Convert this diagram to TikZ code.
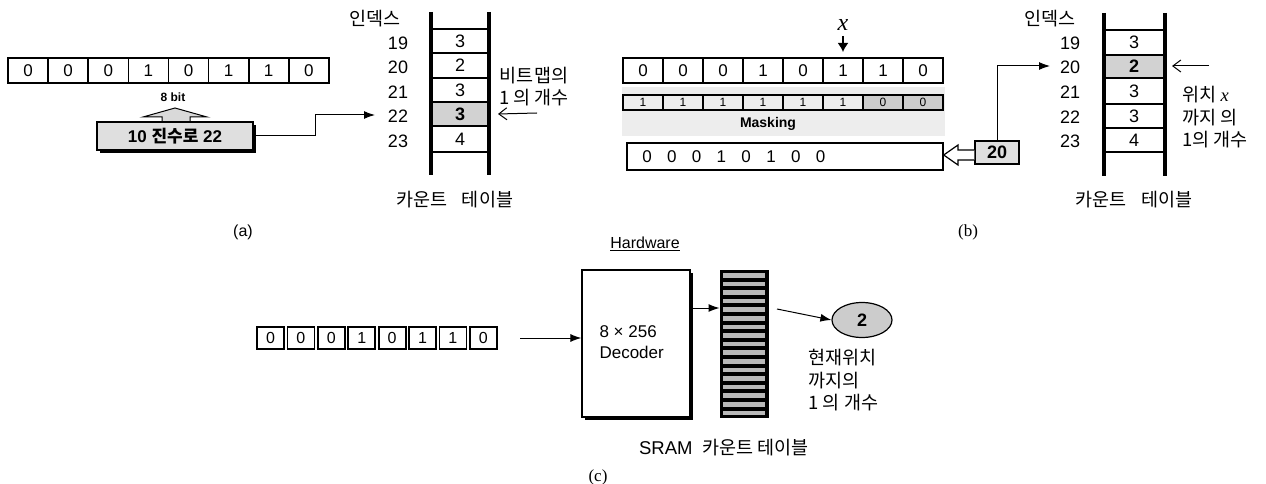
\documentclass[tikz,border=0pt]{standalone}
\usepackage{fontspec}
\setmainfont{Liberation Sans}
\newfontfamily\kr{Noto Sans CJK KR}
\newfontfamily\srf{Liberation Serif}
\usetikzlibrary{arrows.meta,shadows,shapes.geometric}
\begin{document}
\begin{tikzpicture}[x=1pt,y=-1pt,
  bitcell/.style={draw,line width=1.6pt,minimum width=40pt,minimum height=25pt,inner sep=0pt,font=\fontsize{17}{17}\selectfont},
  maskcell/.style={draw,line width=1.6pt,minimum width=40pt,minimum height=15pt,inner sep=0pt,font=\fontsize{12}{12}\selectfont},
  smallbit/.style={draw,line width=1.8pt,minimum width=27pt,minimum height=22pt,inner sep=0pt,font=\fontsize{16}{16}\selectfont},
  tval/.style={font=\fontsize{18}{18}\selectfont},
  tvalb/.style={font=\bfseries\fontsize{18}{18}\selectfont},
  tidx/.style={font=\fontsize{18}{18}\selectfont},
  krlab/.style={font=\kr\fontsize{18.5}{21}\selectfont},
  pole/.style={line width=3.5pt},
  rung/.style={line width=1.2pt},
  conn/.style={line width=1pt,-{Latex[length=11pt,width=8pt]}},
  thinarrow/.style={line width=1pt,-{Straight Barb[length=8pt,width=12pt]}},
  capt/.style={font=\fontsize{16}{16}\selectfont}]
\useasboundingbox (0,0) rectangle (1266,484);

%% ---------------- (a) ----------------
\foreach \b [count=\i from 0] in {0,0,0,1,0,1,1,0}
  \node[bitcell] (a\i) at ({28.1+40.1*\i},70.5) {\b};
\node[font=\bfseries\fontsize{12}{12}\selectfont] (abit) at (173,97) {8 bit};
\filldraw[fill=gray!30,line width=1pt] (162,122) -- (162,117) -- (143,117) -- (175,108) -- (207,117) -- (190,117) -- (190,122);
\node[draw,line width=1.2pt,fill=gray!25,minimum width=156pt,minimum height=28pt,
      drop shadow={shadow xshift=3pt,shadow yshift=-3pt,fill=black,opacity=1},
      font=\bfseries\fontsize{17}{17}\selectfont] (abox) at (175,136) {10 {\kr 진수로} 22};
% table a
\fill[gray!35] (431,102) rectangle (489,126);
\foreach \y in {29,53,78,102,126,152} \draw[rung] (431,\y) -- (489,\y);
\draw[pole] (431,12) -- (431,175);
\draw[pole] (489,12) -- (489,175);
\node[krlab] (aidx) at (375,19) {인덱스};
\foreach \n/\y in {19/41,20/65.5,21/90,22/114,23/139}
  \node[tidx] (ai\n) at (398,\y+2) {\n};
\node[tval] (av19) at (460,41) {3};
\node[tval] (av20) at (460,65.5) {2};
\node[tval] (av21) at (460,90) {3};
\node[tvalb] (av22) at (460,114) {3};
\node[tval] (av23) at (460,139) {4};
\coordinate (aend) at (375,115);
\draw[conn] (abox.east) -- (315,136) |- (aend);
\node[krlab] (acnt1) at (534,76) {비트맵의};
\node[krlab] (acnt2) at (534,98) {1 의 개수};
\coordinate (aarrs) at (537,113);
\draw[thinarrow] (aarrs) -- (av22.east -| 498,0);
\node[krlab] (atitle) at (455,200) {카운트\hspace{14pt}테이블};
\node[capt] (acap) at (243,232) {(a)};

%% ---------------- (b) ----------------
\fill[gray!14] (622,87) rectangle (945,136);
\foreach \b [count=\i from 0] in {0,0,0,1,0,1,1,0}
  \node[bitcell] (b\i) at ({643+40*\i},70.5) {\b};
\foreach \b [count=\i from 0] in {1,1,1,1,1,1}
  \node[maskcell] (m\i) at ({643+40*\i},102.5) {\b};
\node[maskcell,fill=gray!40] (m6) at (883,102.5) {0};
\node[maskcell,fill=gray!40] (m7) at (923,102.5) {0};
\node[font=\bfseries\fontsize{14}{14}\selectfont] (mask) at (768,124) {Masking};
\node[font=\srf\itshape\fontsize{24}{24}\selectfont] (bx) at (843,25) {x};
\draw[line width=1.5pt,-{Latex[length=9pt,width=11pt]}] (843,36) -- (843,52);
\node[draw,line width=1.4pt,minimum width=316pt,minimum height=27pt,inner sep=0pt] (res) at (785,156.5) {};
\foreach \b [count=\i from 0] in {0,0,0,1,0,1,0,0}
  \node[font=\fontsize{17}{17}\selectfont] (r\i) at ({647+24.8*\i},156.5) {\b};
\node[draw,line width=1.2pt,fill=gray!25,minimum width=44pt,minimum height=23pt,inner sep=0pt,
      font=\bfseries\fontsize{18}{18}\selectfont] (b20) at (997,152.5) {20};
\filldraw[fill=white,line width=1.2pt] (b20.west |- 0,150) -- (958,150) -- (958,145) -- (res.east |- 0,155) -- (958,165) -- (958,160) -- (b20.west |- 0,160);
% table b
\fill[gray!35] (1104,55) rectangle (1165,78);
\foreach \y in {30,55,78,104,128,152} \draw[rung] (1104,\y) -- (1165,\y);
\draw[pole] (1104,13) -- (1104,176);
\draw[pole] (1165,13) -- (1165,176);
\node[krlab] (bidx) at (1050,19) {인덱스};
\foreach \n/\y in {19/42,20/66.5,21/91,22/116,23/140}
  \node[tidx] (bi\n) at (1070,\y+1) {\n};
\node[tval] (bv19) at (1134,42) {3};
\node[tvalb] (bv20) at (1134,66.5) {2};
\node[tval] (bv21) at (1134,91) {3};
\node[tval] (bv22) at (1134,116) {3};
\node[tval] (bv23) at (1134,140) {4};
\coordinate (bend) at (1050,66);
\draw[conn] (b20.north) |- (bend);
\coordinate (barrs) at (1209,66);
\draw[thinarrow] (barrs) -- (1172,66);
\node[krlab,anchor=west] (bl1) at (1179,95) {위치 {\srf\itshape x}};
\node[krlab,anchor=west] (bl2) at (1179,118) {까지 의};
\node[krlab,anchor=west] (bl3) at (1179,140) {1의 개수};
\node[krlab] (btitle) at (1134,200) {카운트\hspace{14pt}테이블};
\node[capt,font=\srf\fontsize{17}{17}\selectfont] (bcap) at (968,232) {(b)};

%% ---------------- (c) ----------------
\foreach \b [count=\i from 0] in {0,0,0,1,0,1,1,0}
  \node[smallbit] (c\i) at ({270.5+30.4*\i},338) {\b};
\node[font=\fontsize{16}{16}\selectfont] (hw) at (645,244) {\underline{Hardware}};
\node[draw,line width=1.2pt,fill=white,minimum width=108pt,minimum height=147pt,inner sep=0pt,
      drop shadow={shadow xshift=3pt,shadow yshift=-3pt,fill=black,opacity=1}] (dec) at (636,343.5) {};
\node[anchor=west,align=left,font=\fontsize{17}{21}\selectfont] (dectext) at (596,342) {8 × 256\\Decoder};
\draw[conn] (c7.east -| 520,0) -- (dec.west |- c7.east);
\node[draw,line width=1pt,fill=black,minimum width=48pt,minimum height=147pt,inner sep=0pt] (sram) at (744,343.5) {};
\foreach \k in {0,...,16}
  \fill[gray!55] (723,{273+8.6*\k}) rectangle (765,{277.5+8.6*\k});
\draw[conn] (dec.east |- 0,308) -- (sram.west |- 0,308);
\node[ellipse,draw,line width=1.2pt,fill=gray!40,minimum width=60pt,minimum height=35pt,inner sep=0pt,
      font=\bfseries\fontsize{18}{18}\selectfont] (two) at (862,320) {2};
\coordinate (cs) at (777,309);
\draw[conn] (cs) -- (two.west);
\node[krlab,anchor=west] (cl1) at (805,358) {현재위치};
\node[krlab,anchor=west] (cl2) at (805,381) {까지의};
\node[krlab,anchor=west] (cl3) at (805,403) {1 의 개수};
\node[krlab] (ctitle) at (724,448) {{\fontspec{Liberation Sans}SRAM}\hspace{10pt}카운트 테이블};
\node[capt,font=\srf\fontsize{17}{17}\selectfont] (ccap) at (598,477) {(c)};
\end{tikzpicture}
\end{document}
